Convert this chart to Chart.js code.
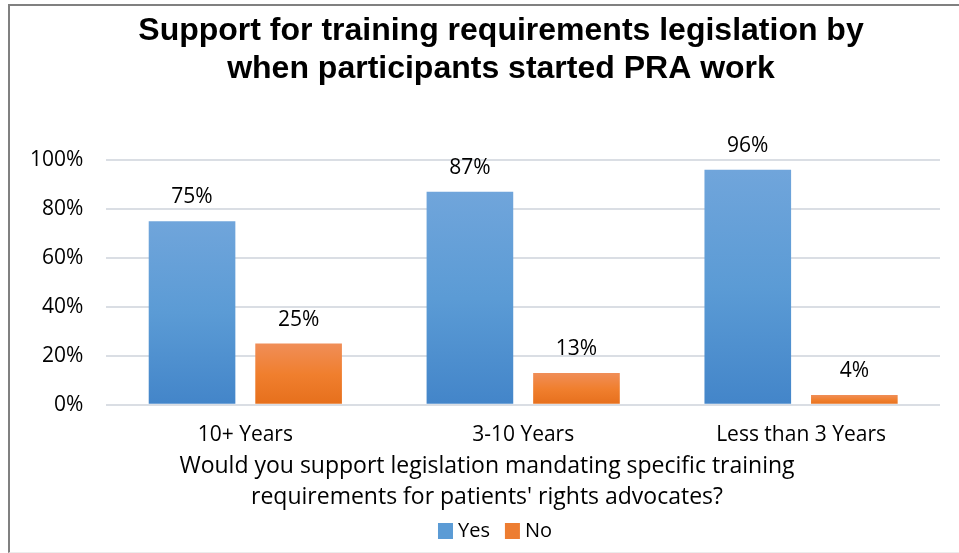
<!DOCTYPE html>
<html>
<head>
<meta charset="utf-8">
<script src="https://cdn.jsdelivr.net/npm/chart.js@4.4.1/dist/chart.umd.min.js"></script>
<style>
  html, body { margin: 0; padding: 0; background: #fff; }
  #wrap { position: relative; width: 959px; height: 553px; }
  #frame { position: absolute; left: 8px; top: 4px; right: 0; bottom: 0; border-left: 2px solid #808080; border-top: 2px solid #808080; border-bottom: 1px solid #ececec; pointer-events: none; }
  canvas { position: absolute; left: 0; top: 0; }
</style>
</head>
<body>
<div id="wrap">
  <canvas id="c" width="959" height="553"></canvas>
  <div id="frame"></div>
</div>
<script>
const categories = ['10+ Years', '3-10 Years', 'Less than 3 Years'];
const yesValues = [75, 87, 96];
const noValues = [25, 13, 4];
const yTicks = [0, 20, 40, 60, 80, 100];
const chartTitle = ['Support for training requirements legislation by', 'when participants started PRA work'];
const xAxisTitle = ['Would you support legislation mandating specific training', "requirements for patients' rights advocates?"];
const seriesNames = ['Yes', 'No'];

const solids = ['#5b9bd5', '#ed7d31'];

function grad(top, bottom, solid) {
  return function (ctx) {
    const chart = ctx.chart;
    if (!chart.chartArea || ctx.raw === undefined) return solid;
    const y = chart.scales.y;
    const t = y.getPixelForValue(ctx.raw);
    const b = y.getPixelForValue(0);
    if (!isFinite(t) || !isFinite(b) || t === b) return solid;
    const g = chart.ctx.createLinearGradient(0, t, 0, b);
    g.addColorStop(0, top);
    g.addColorStop(0.5, solid);
    g.addColorStop(1, bottom);
    return g;
  };
}

const labelPlugin = {
  id: 'valueLabels',
  afterDatasetsDraw(chart) {
    const ctx = chart.ctx;
    ctx.save();
    ctx.font = '21px "Open Sans"';
    ctx.fillStyle = '#000';
    ctx.textAlign = 'center';
    ctx.textBaseline = 'alphabetic';
    chart.data.datasets.forEach((ds, di) => {
      const meta = chart.getDatasetMeta(di);
      meta.data.forEach((el, i) => {
        ctx.fillText(ds.data[i] + '%', el.x, el.y - 18);
      });
    });
    ctx.restore();
  }
};

// Titles and legend drawn as real canvas text in the space reserved by layout padding
const textPlugin = {
  id: 'texts',
  afterDraw(chart) {
    const ctx = chart.ctx;
    ctx.save();
    ctx.fillStyle = '#000';
    ctx.textAlign = 'center';
    ctx.textBaseline = 'middle';
    ctx.font = 'bold 32px "Liberation Sans", Arial, sans-serif';
    chartTitle.forEach((line, i) => ctx.fillText(line, 501, 31 + i * 38));
    ctx.font = '23px "Open Sans"';
    xAxisTitle.forEach((line, i) => ctx.fillText(line, 487, 466 + i * 31));
    // legend
    ctx.font = '20px "Open Sans"';
    ctx.textAlign = 'left';
    const box = 15, gapBox = 5, gapItem = 15;
    const widths = chart.data.datasets.map(ds => ctx.measureText(ds.label).width);
    let total = 0;
    widths.forEach((w, i) => { total += box + gapBox + w + (i < widths.length - 1 ? gapItem : 0); });
    let x = 495 - total / 2;
    const cy = 531;
    chart.data.datasets.forEach((ds, i) => {
      ctx.fillStyle = solids[i];
      ctx.fillRect(x, cy - 8, box, 16);
      ctx.fillStyle = '#000';
      ctx.fillText(ds.label, x + box + gapBox, cy);
      x += box + gapBox + widths[i] + gapItem;
    });
    ctx.restore();
  }
};

new Chart(document.getElementById('c'), {
  type: 'bar',
  data: {
    labels: categories,
    datasets: [
      { label: seriesNames[0], data: yesValues, backgroundColor: grad('#70a5db', '#4385c9', '#5b9bd5') },
      { label: seriesNames[1], data: noValues, backgroundColor: grad('#f08e58', '#e66f1c', '#f07f2e') }
    ]
  },
  options: {
    responsive: false,
    animation: false,
    devicePixelRatio: 1,
    layout: { padding: { left: 7, right: 19, top: 160, bottom: 95 } },
    datasets: { bar: { categoryPercentage: 0.767, barPercentage: 0.813 } },
    plugins: {
      title: { display: false },
      legend: { display: false },
      tooltip: { enabled: false }
    },
    scales: {
      x: {
        grid: { display: false },
        border: { display: false },
        ticks: { color: '#000', font: { family: '"Open Sans"', size: 21 }, padding: 10 }
      },
      y: {
        min: 0, max: 100,
        afterBuildTicks(scale) { scale.ticks = yTicks.map(v => ({ value: v })); },
        grid: { color: '#dadee4', lineWidth: 2, drawTicks: false },
        border: { display: false },
        ticks: { color: '#000', font: { family: '"Open Sans"', size: 21 }, padding: 23, callback: v => v + '%' }
      }
    }
  },
  plugins: [labelPlugin, textPlugin]
});
</script>
</body>
</html>
